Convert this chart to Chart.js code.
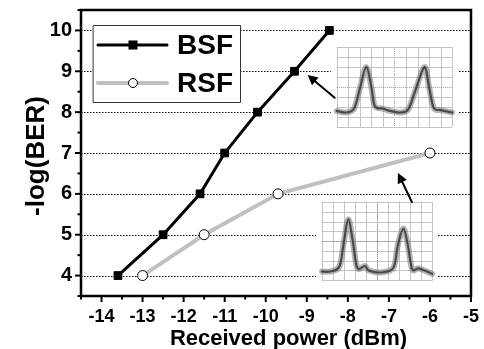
<!DOCTYPE html>
<html>
<head>
<meta charset="utf-8">
<script src="https://cdn.jsdelivr.net/npm/chart.js@4/dist/chart.umd.min.js"></script>
<style>
html,body{margin:0;padding:0;background:#fff;}
canvas{display:block;}
</style>
</head>
<body>
<canvas id="c" width="484" height="349"></canvas>
<script>
// ---- data ----
const bsfPower  = [-13.6, -12.5, -11.6, -11.0, -10.2, -9.3, -8.45];
const bsfLogBer = [4, 5, 6, 7, 8, 9, 10];
const rsfPower  = [-13.0, -11.5, -9.7, -6.0];
const rsfLogBer = [4, 5, 6, 7];
const seriesNames = ['BSF', 'RSF'];
const xTitle = 'Received power (dBm)';
const yTitle = '-log(BER)';
const xRange = [-14.5, -5];
const yRange = [3.5, 10.5];

// inset oscilloscope traces (fractions of inset box), hand-read
const trace1 = [[0,0.80],[0.08,0.82],[0.15,0.77],[0.20,0.52],[0.255,0.25],[0.30,0.50],[0.33,0.74],[0.40,0.77],[0.46,0.80],[0.55,0.82],[0.62,0.78],[0.68,0.55],[0.76,0.25],[0.80,0.50],[0.84,0.76],[0.90,0.79],[1.0,0.82]];
const trace2 = [[0,0.89],[0.08,0.89],[0.16,0.82],[0.20,0.50],[0.24,0.22],[0.28,0.50],[0.32,0.84],[0.39,0.82],[0.43,0.88],[0.55,0.90],[0.65,0.84],[0.69,0.55],[0.74,0.34],[0.78,0.55],[0.82,0.86],[0.88,0.85],[1.0,0.92]];
// inset boxes and arrows in data coordinates
const insets = [
  {x0:-8.27, x1:-5.46, y0:9.59, y1:7.64, trace:trace1},
  {x0:-8.63, x1:-5.95, y0:5.80, y1:3.89, trace:trace2}
];
const arrows = [
  {from:[-8.32, 8.35], to:[-8.98, 8.91]},
  {from:[-6.44, 5.80], to:[-6.78, 6.51]}
];

const FONT = '"Liberation Sans", Arial, sans-serif';

function toPts(xs, ys){ return xs.map((x,i)=>({x:x, y:ys[i]})); }

function smoothPath(ctx, pts){
  ctx.beginPath();
  ctx.moveTo(pts[0][0], pts[0][1]);
  for(let i=0;i<pts.length-1;i++){
    const p0 = pts[Math.max(0,i-1)], p1 = pts[i], p2 = pts[i+1], p3 = pts[Math.min(pts.length-1,i+2)];
    const c1x = p1[0] + (p2[0]-p0[0])/6, c1y = p1[1] + (p2[1]-p0[1])/6;
    const c2x = p2[0] - (p3[0]-p1[0])/6, c2y = p2[1] - (p3[1]-p1[1])/6;
    ctx.bezierCurveTo(c1x,c1y,c2x,c2y,p2[0],p2[1]);
  }
}

const decor = {
  id:'decor',
  beforeDatasetsDraw(chart){
    const {ctx, chartArea:a, scales:{x, y}} = chart;
    ctx.save();
    // dotted horizontal grid at integer values
    ctx.strokeStyle = '#000';
    ctx.lineWidth = 1;
    ctx.setLineDash([1.5,1.5]);
    y.ticks.forEach(t=>{
      if(Number.isInteger(t.value) && t.value > yRange[0] && t.value < yRange[1]){
        const py = Math.round(y.getPixelForValue(t.value)) + 0.5;
        ctx.beginPath(); ctx.moveTo(a.left, py); ctx.lineTo(a.right, py); ctx.stroke();
      }
    });
    ctx.setLineDash([]);
    // tick marks
    ctx.lineWidth = 2;
    y.ticks.forEach(t=>{
      const len = Number.isInteger(t.value) ? 6 : 3.5;
      const py = y.getPixelForValue(t.value);
      ctx.beginPath(); ctx.moveTo(a.left - len, py); ctx.lineTo(a.left, py); ctx.stroke();
    });
    x.ticks.forEach(t=>{
      const len = Number.isInteger(t.value) ? 6 : 3.5;
      const px = x.getPixelForValue(t.value);
      ctx.beginPath(); ctx.moveTo(px, a.bottom); ctx.lineTo(px, a.bottom + len); ctx.stroke();
    });
    ctx.restore();
  },
  afterDatasetsDraw(chart){
    const {ctx, chartArea:a, scales:{x, y}} = chart;
    ctx.save();
    // insets
    insets.forEach(ins=>{
      const L = x.getPixelForValue(ins.x0), R = x.getPixelForValue(ins.x1);
      const T = y.getPixelForValue(ins.y0), B = y.getPixelForValue(ins.y1);
      const w = R-L, h = B-T;
      ctx.fillStyle = '#fff';
      ctx.fillRect(L-6, T-1, w+12, h+2);
      ctx.strokeStyle = '#c4c4c4';
      ctx.lineWidth = 1;
      for(let i=0;i<=10;i++){
        const px = Math.round(L + w*i/10)+0.5;
        if(i===5){ctx.setLineDash([1,1]); ctx.strokeStyle='#9a9a9a';} else {ctx.setLineDash([]); ctx.strokeStyle='#c4c4c4';}
        ctx.beginPath(); ctx.moveTo(px,T); ctx.lineTo(px,B); ctx.stroke();
      }
      for(let j=0;j<=8;j++){
        const py = Math.round(T + h*j/8)+0.5;
        if(j===4){ctx.setLineDash([1,1]); ctx.strokeStyle='#9a9a9a';} else {ctx.setLineDash([]); ctx.strokeStyle='#c4c4c4';}
        ctx.beginPath(); ctx.moveTo(L,py); ctx.lineTo(R,py); ctx.stroke();
      }
      ctx.setLineDash([]);
      const pts = ins.trace.map(p=>[L + p[0]*w, T + p[1]*h]);
      ctx.lineJoin = 'round'; ctx.lineCap='round';
      smoothPath(ctx, pts); ctx.strokeStyle='rgba(120,120,120,0.55)'; ctx.lineWidth=6; ctx.stroke();
      smoothPath(ctx, pts); ctx.strokeStyle='rgba(40,40,40,0.75)'; ctx.lineWidth=2.2; ctx.stroke();
    });
    // arrows
    ctx.strokeStyle = '#000'; ctx.fillStyle = '#000'; ctx.lineWidth = 2;
    arrows.forEach(ar=>{
      const x1 = x.getPixelForValue(ar.from[0]), y1 = y.getPixelForValue(ar.from[1]);
      const x2 = x.getPixelForValue(ar.to[0]),   y2 = y.getPixelForValue(ar.to[1]);
      const ang = Math.atan2(y2-y1, x2-x1);
      const hl = 10, hw = 5;
      const bx = x2 - hl*Math.cos(ang), by = y2 - hl*Math.sin(ang);
      ctx.beginPath(); ctx.moveTo(x1,y1); ctx.lineTo(bx,by); ctx.stroke();
      ctx.beginPath();
      ctx.moveTo(x2,y2);
      ctx.lineTo(bx + hw*Math.sin(ang), by - hw*Math.cos(ang));
      ctx.lineTo(bx - hw*Math.sin(ang), by + hw*Math.cos(ang));
      ctx.closePath(); ctx.fill();
    });
    // legend
    const lx = a.left + 12, ly = a.top + 15, lw = 147, lh = 77;
    ctx.fillStyle = '#fff'; ctx.fillRect(lx, ly, lw, lh);
    ctx.strokeStyle = '#333'; ctx.lineWidth = 1; ctx.strokeRect(lx+0.5, ly+0.5, lw, lh);
    chart.data.datasets.forEach((ds, i)=>{
      const cy = ly + 20 + i*38;
      ctx.strokeStyle = ds.borderColor; ctx.lineWidth = ds.borderWidth;
      ctx.beginPath(); ctx.moveTo(lx+5, cy); ctx.lineTo(lx+74, cy); ctx.stroke();
      const mx = lx + 40;
      ctx.lineWidth = 1; ctx.strokeStyle = '#000'; ctx.fillStyle = ds.pointBackgroundColor;
      if(ds.pointStyle === 'rect'){
        ctx.fillRect(mx-4.5, cy-4.5, 9, 9);
      } else {
        ctx.beginPath(); ctx.arc(mx, cy, 4.5, 0, Math.PI*2); ctx.fill(); ctx.stroke();
      }
      ctx.fillStyle = '#000';
      ctx.font = 'bold 28px ' + FONT;
      ctx.textBaseline = 'middle'; ctx.textAlign = 'left';
      ctx.fillText(ds.label, lx + 84, cy + 1);
    });
    ctx.restore();
  },
  afterDraw(chart){
    const {ctx, chartArea:a} = chart;
    ctx.save();
    // frame
    ctx.strokeStyle = '#000'; ctx.lineWidth = 2.5;
    ctx.strokeRect(a.left, a.top, a.right-a.left, a.bottom-a.top);
    // axis titles
    ctx.fillStyle = '#000';
    ctx.font = 'bold 22px ' + FONT;
    ctx.textAlign = 'center'; ctx.textBaseline = 'alphabetic';
    ctx.fillText(xTitle, 288.5, 345);
    ctx.translate(37, 156); ctx.rotate(-Math.PI/2);
    ctx.font = 'bold 26px ' + FONT;
    ctx.textBaseline = 'middle';
    ctx.fillText(yTitle, 0, 0);
    ctx.restore();
  }
};

const tickLabel = v => Number.isInteger(v) ? String(v) : '';

new Chart(document.getElementById('c'), {
  type: 'line',
  data: {
    datasets: [
      {
        label: seriesNames[0],
        data: toPts(bsfPower, bsfLogBer),
        borderColor: '#000', borderWidth: 3,
        pointStyle: 'rect', pointRadius: 5.5, pointBackgroundColor: '#000', pointBorderColor: '#000', pointBorderWidth: 1,
        tension: 0, order: 1
      },
      {
        label: seriesNames[1],
        data: toPts(rsfPower, rsfLogBer),
        borderColor: '#c0c0c0', borderWidth: 4,
        pointStyle: 'circle', pointRadius: 5, pointBackgroundColor: '#fff', pointBorderColor: '#000', pointBorderWidth: 1,
        tension: 0, order: 2
      }
    ]
  },
  options: {
    responsive: false,
    animation: false,
    devicePixelRatio: 1,
    layout: { padding: { left: 0, top: 10, right: 13, bottom: 0 } },
    plugins: { legend: { display: false }, tooltip: { enabled: false } },
    scales: {
      x: {
        type: 'linear', min: xRange[0], max: xRange[1],
        grid: { display: false, drawTicks: false },
        border: { display: false },
        ticks: { stepSize: 0.5, autoSkip: false, maxRotation: 0, padding: 10, color: '#000',
                 font: { family: FONT, size: 18, weight: 'bold' }, callback: tickLabel },
        afterFit(s){ s.height = 53; s.paddingLeft = 0; s.paddingRight = 0; }
      },
      y: {
        type: 'linear', min: yRange[0], max: yRange[1],
        grid: { display: false, drawTicks: false },
        border: { display: false },
        ticks: { stepSize: 0.5, autoSkip: false, padding: 9, color: '#000',
                 font: { family: FONT, size: 20, weight: 'bold' }, callback: tickLabel },
        afterFit(s){ s.width = 81; s.paddingTop = 0; s.paddingBottom = 0; }
      }
    }
  },
  plugins: [decor]
});
</script>
</body>
</html>
